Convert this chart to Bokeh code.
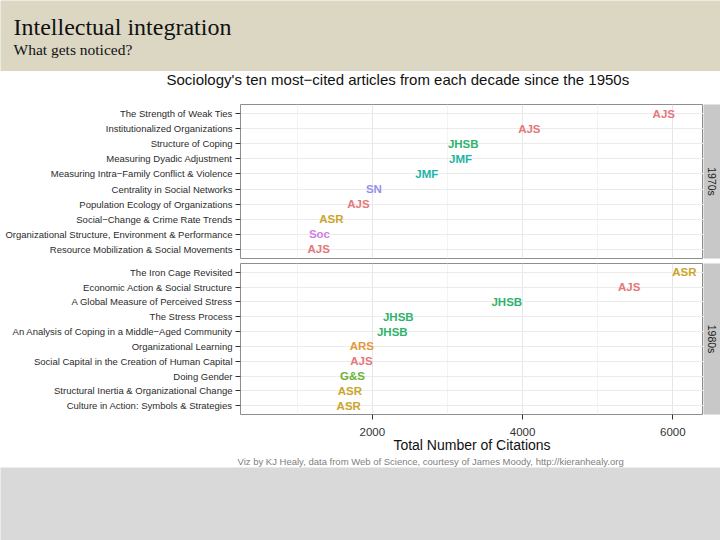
import math
from bokeh.plotting import figure
from bokeh.models import ColumnDataSource, Range1d, FactorRange, Label, FixedTicker
from bokeh.layouts import column, row
from bokeh.embed import file_html
from bokeh.resources import INLINE
from bokeh.core.properties import value

# ---------------- data ----------------
articles_1970s = [
    "The Strength of Weak Ties",
    "Institutionalized Organizations",
    "Structure of Coping",
    "Measuring Dyadic Adjustment",
    "Measuring Intra\u2212Family Conflict & Violence",
    "Centrality in Social Networks",
    "Population Ecology of Organizations",
    "Social\u2212Change & Crime Rate Trends",
    "Organizational Structure, Environment & Performance",
    "Resource Mobilization & Social Movements",
]
journals_1970s = ["AJS", "AJS", "JHSB", "JMF", "JMF", "SN", "AJS", "ASR", "Soc", "AJS"]
citations_1970s = [5880, 4090, 3210, 3175, 2725, 2020, 1815, 1455, 1295, 1285]

articles_1980s = [
    "The Iron Cage Revisited",
    "Economic Action & Social Structure",
    "A Global Measure of Perceived Stress",
    "The Stress Process",
    "An Analysis of Coping in a Middle\u2212Aged Community",
    "Organizational Learning",
    "Social Capital in the Creation of Human Capital",
    "Doing Gender",
    "Structural Inertia & Organizational Change",
    "Culture in Action: Symbols & Strategies",
]
journals_1980s = ["ASR", "AJS", "JHSB", "JHSB", "JHSB", "ARS", "AJS", "G&S", "ASR", "ASR"]
citations_1980s = [6155, 5420, 3790, 2345, 2265, 1860, 1855, 1735, 1700, 1685]

journal_colors = {
    "AJS": "#e4787a",
    "ARS": "#e0993c",
    "ASR": "#cba52a",
    "G&S": "#6cb234",
    "JHSB": "#2fb36c",
    "JMF": "#22b5a6",
    "SN": "#9790ee",
    "Soc": "#cf80e6",
}

decades = ["1970s", "1980s"]
x_ticks = [2000, 4000, 6000]
x_minor = [1000, 3000, 5000]

slide_title = "Intellectual integration"
slide_subtitle = "What gets noticed?"
chart_title = "Sociology's ten most\u2212cited articles from each decade since the 1950s"
x_title = "Total Number of Citations"
caption = "Viz by KJ Healy, data from Web of Science, courtesy of James Moody, http://kieranhealy.org"

SANS = "Liberation Sans"
SERIF = "Liberation Serif"

W = 720
LEFT = 240
FRAME_W = 463
STRIP_W = W - LEFT - FRAME_W


def blank(width, height, bg, xr=(0, 1), yr=(0, 1)):
    f = figure(width=width, height=height, x_range=Range1d(*xr), y_range=Range1d(*yr),
               toolbar_location=None, output_backend="svg", min_border=0,
               x_axis_location=None, y_axis_location=None,
               background_fill_color=bg, border_fill_color=bg, outline_line_color=None)
    f.xgrid.visible = False
    f.ygrid.visible = False
    return f


def make_panel(titles, journals, cites, height, top, bottom, show_x):
    src = ColumnDataSource(dict(
        article=titles, journal=journals, cites=cites,
        color=[journal_colors[j] for j in journals],
    ))
    p = figure(
        width=LEFT + FRAME_W, height=height,
        x_range=Range1d(244, 6409),
        y_range=FactorRange(factors=list(reversed(titles)), range_padding=0.02),
        toolbar_location=None, output_backend="svg",
        min_border_left=LEFT, min_border_right=0,
        min_border_top=top, min_border_bottom=bottom,
        x_axis_location="below" if show_x else None,
        background_fill_color="white", border_fill_color="white",
        outline_line_color="#8e8e8e", outline_line_width=1,
    )
    p.xgrid.ticker = FixedTicker(ticks=x_ticks, minor_ticks=x_minor)
    p.xgrid.grid_line_color = "#e6e6e6"
    p.xgrid.minor_grid_line_color = "#f3f3f3"
    p.ygrid.grid_line_color = "#ebebeb"

    ya = p.yaxis[0]
    ya.axis_line_color = None
    ya.major_tick_in = 0
    ya.major_tick_out = 5
    ya.major_tick_line_color = "#333333"
    ya.major_label_standoff = 3
    ya.major_label_text_font = SANS
    ya.major_label_text_font_size = "9.5px"
    ya.major_label_text_color = "#2b2b2b"

    if show_x:
        xa = p.xaxis[0]
        xa.ticker = FixedTicker(ticks=x_ticks, minor_ticks=[])
        xa.axis_line_color = None
        xa.major_tick_in = 0
        xa.major_tick_out = 5
        xa.minor_tick_out = 0
        xa.major_tick_line_color = "#333333"
        xa.major_label_standoff = 8
        xa.major_label_text_font = SANS
        xa.major_label_text_font_size = "11.5px"
        xa.major_label_text_color = "#333333"
        xa.axis_label = x_title
        xa.axis_label_standoff = -2
        xa.axis_label_text_font = SANS
        xa.axis_label_text_font_style = "normal"
        xa.axis_label_text_font_size = "14px"
        xa.axis_label_text_color = "#111111"

    p.text(x="cites", y="article", text="journal", text_color="color", source=src,
           text_align="center", text_baseline="middle",
           text_font=value(SANS), text_font_style="bold",
           text_font_size=value("11.5px"))
    return p


def make_strip(label, height, top, bottom):
    s = figure(
        width=STRIP_W, height=height,
        x_range=Range1d(0, 1), y_range=Range1d(0, 1),
        toolbar_location=None, output_backend="svg",
        min_border_left=0, min_border_right=0,
        min_border_top=top, min_border_bottom=bottom,
        x_axis_location=None, y_axis_location=None,
        background_fill_color="#c8c8c8", border_fill_color="white",
        outline_line_color=None,
    )
    s.xgrid.visible = False
    s.ygrid.visible = False
    s.add_layout(Label(x=0.5, y=0.5, text=label, angle=-math.pi / 2,
                       text_align="center", text_baseline="middle",
                       text_font=SANS, text_font_size="10.5px",
                       text_color="#1a1a1a"))
    return s


# slide header (0..71)
header = blank(W, 71, "#dcd7c3", (0, W), (0, 71))
header.add_layout(Label(x=13, y=44.5, text=slide_title, text_font=SERIF,
                        text_font_size="24px", text_color="#111111", text_baseline="middle"))
header.add_layout(Label(x=13, y=22.5, text=slide_subtitle, text_font=SERIF,
                        text_font_size="15.5px", text_color="#111111", text_baseline="middle"))

# chart title bar (71..103)
titlebar = blank(W, 32, "white", (0, W), (0, 32))
titlebar.add_layout(Label(x=166, y=24.5, text=chart_title, text_font=SANS,
                          text_font_size="15px", text_color="#111111", text_baseline="middle"))

# panels
p1 = make_panel(articles_1970s, journals_1970s, citations_1970s, 157, 1, 2, False)
s1 = make_strip(decades[0], 157, 1, 2)
p2 = make_panel(articles_1980s, journals_1980s, citations_1980s, 195, 3, 39, True)
s2 = make_strip(decades[1], 195, 3, 39)

# caption bar (455..467)
capbar = blank(W, 12, "white", (0, W), (0, 12))
capbar.add_layout(Label(x=237, y=6.5, text=caption, text_font=SANS,
                        text_font_size="9.5px", text_color="#808080", text_baseline="middle"))

# grey slide bottom (467..540)
footer = blank(W, 73, "#d9d9d9")

layout = column(header, titlebar, row(p1, s1), row(p2, s2), capbar, footer)

open("out.html", "w").write(file_html(layout, INLINE))
